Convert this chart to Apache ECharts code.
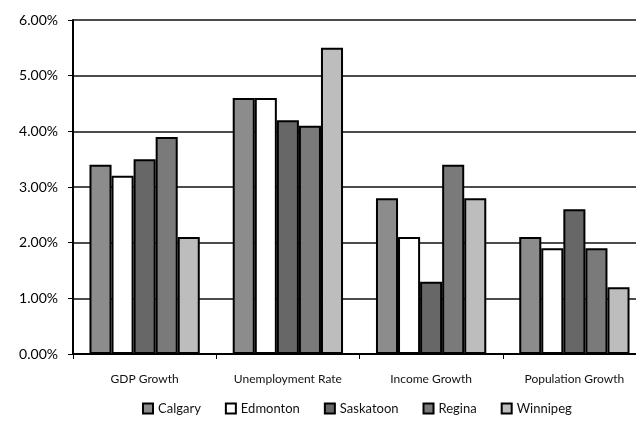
<!DOCTYPE html>
<html>
<head>
<meta charset="utf-8">
<script src="https://cdn.jsdelivr.net/npm/echarts@6/dist/echarts.min.js"></script>
<style>
  html, body { margin: 0; padding: 0; background: #fff; overflow: hidden; }
  #chart { width: 646px; height: 427px; }
</style>
</head>
<body>
<div id="chart"></div>
<script>
// Chart data
const categories = ['GDP Growth', 'Unemployment Rate', 'Income Growth', 'Population Growth'];
const cities = ['Calgary', 'Edmonton', 'Saskatoon', 'Regina', 'Winnipeg'];
const calgary = [3.4, 4.6, 2.8, 2.1];
const edmonton = [3.2, 4.6, 2.1, 1.9];
const saskatoon = [3.5, 4.2, 1.3, 2.6];
const regina = [3.9, 4.1, 3.4, 1.9];
const winnipeg = [2.1, 5.5, 2.8, 1.2];
const seriesData = [calgary, edmonton, saskatoon, regina, winnipeg];
const fills = ['#8c8c8c', '#ffffff', '#676767', '#7a7a7a', '#bdbdbd'];

const font = 'Lato, "Open Sans", sans-serif';
const chart = echarts.init(document.getElementById('chart'));
chart.setOption({
    animation: false,
    grid: { left: 73, right: 0, top: 20, bottom: 73 },
    legend: {
        bottom: 7,
        left: 137,
        itemWidth: 10,
        itemHeight: 10,
        itemGap: 24,
        icon: 'rect',
        textStyle: { fontFamily: font, fontSize: 13, color: '#111' },
        data: cities
    },
    xAxis: {
        type: 'category',
        data: categories,
        axisLine: { lineStyle: { color: '#000', width: 2 } },
        axisTick: { show: true, length: 5, lineStyle: { color: '#000' } },
        axisLabel: { fontFamily: font, fontSize: 12, color: '#111', margin: 19 }
    },
    yAxis: {
        type: 'value',
        min: 0,
        max: 6,
        interval: 1,
        axisLine: { show: true, lineStyle: { color: '#000', width: 2 } },
        axisTick: { show: true, length: 5, lineStyle: { color: '#000' } },
        splitLine: { lineStyle: { color: '#111', width: 1.5 } },
        axisLabel: {
            fontFamily: font, fontSize: 14, color: '#000', margin: 15,
            formatter: v => v.toFixed(2) + '%'
        }
    },
    series: seriesData.map((data, idx) => ({
        type: 'bar',
        name: cities[idx],
        data,
        barGap: '0%',
        barCategoryGap: '23%',
        itemStyle: { color: fills[idx], borderColor: '#000', borderWidth: 2 }
    }))
});
</script>
</body>
</html>
